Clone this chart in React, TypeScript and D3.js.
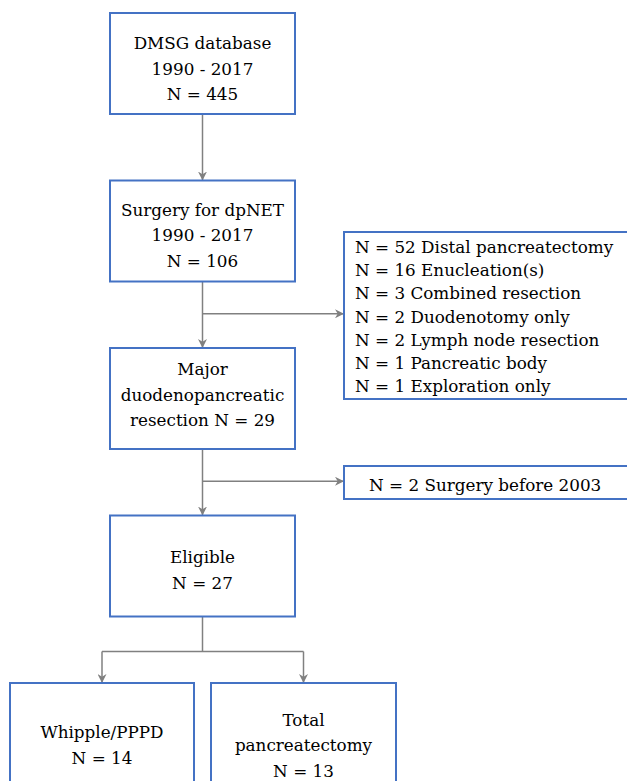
import React from 'react';
import * as d3 from 'd3';

// flow boxes, top to bottom
const mainLabels = [
  ['DMSG database', '1990 - 2017', 'N = 445'],
  ['Surgery for dpNET', '1990 - 2017', 'N = 106'],
  ['Major', 'duodenopancreatic', 'resection N = 29'],
  ['Eligible', 'N = 27'],
];
const excludedFirst = [
  'N = 52 Distal pancreatectomy',
  'N = 16 Enucleation(s)',
  'N = 3 Combined resection',
  'N = 2 Duodenotomy only',
  'N = 2 Lymph node resection',
  'N = 1 Pancreatic body',
  'N = 1 Exploration only',
];
const excludedSecond = ['N = 2 Surgery before 2003'];
const splitLabels = [
  ['Whipple/PPPD', 'N = 14'],
  ['Total', 'pancreatectomy', 'N = 13'],
];

const W = 627;
const H = 781;
const BLUE = '#4472c4';
const GREY = '#808080';
const textStyle = { fontFamily: "'DejaVu Serif', serif", fontSize: '16.8px' };

// layout
const rowY = d3.scaleLinear().domain([0, 4]).range([13, 683]);
const colX = 110;
const boxW = 185;
const boxH = 101;
const lineH = 25.5;
const textShift = [11, 10, 2, 10];
const sideX = 344;
const sideW = 320;
const splitX = [10, 211];
const splitW = [184, 185];

export default function App() {
  const cx = colX + boxW / 2;
  const line = d3.line();

  const arrows: [number, number][][] = [];
  // vertical links between main boxes
  for (let i = 0; i < mainLabels.length - 1; i++) {
    arrows.push([[cx, rowY(i) + boxH], [cx, rowY(i + 1)]]);
  }
  const branchY = [0, 1].map(i => (rowY(i + 1) + boxH + rowY(i + 2)) / 2 - 1);
  branchY.forEach(y => arrows.push([[cx, y], [sideX, y]]));

  // split to the two last boxes
  const splitY = rowY(3) + boxH + 35;
  const splitCx = splitX.map((x, i) => x + splitW[i] / 2);
  const stem: [number, number][] = [[cx, rowY(3) + boxH], [cx, splitY]];
  const bar: [number, number][] = [[splitCx[0], splitY], [splitCx[1], splitY]];
  splitCx.forEach(x => arrows.push([[x, splitY], [x, rowY(4)]]));

  const firstTop = 232;
  const firstBottom = 399;
  const secondTop = 466;
  const secondBottom = 499;

  return (
    <svg width={W} height={H} style={{ position: 'absolute', left: 0, top: 0, background: '#fff' }}>
      <defs>
        <marker id="arr" viewBox="0 0 10 10" refX={10} refY={5} markerWidth={9} markerHeight={9}
          markerUnits="userSpaceOnUse" orient="auto">
          <path d="M0,0 L10,5 L0,10 L3,5 Z" fill={GREY} />
        </marker>
      </defs>
      <rect width={W} height={H} fill="#fff" />

      {[stem, bar].map((p, i) => (
        <path key={'s' + i} d={line(p) ?? ''} fill="none" stroke={GREY} strokeWidth={1.5} />
      ))}
      {arrows.map((p, i) => (
        <path key={i} d={line(p) ?? ''} fill="none" stroke={GREY} strokeWidth={1.5} markerEnd="url(#arr)" />
      ))}

      {mainLabels.map((lines, i) => {
        const y0 = rowY(i);
        const mid = y0 + boxH / 2 + textShift[i];
        return (
          <g key={i}>
            <rect x={colX} y={y0} width={boxW} height={boxH} fill="#fff" stroke={BLUE} strokeWidth={2} />
            {lines.map((t, j) => (
              <text key={j} x={cx} y={mid + (j - (lines.length - 1) / 2) * lineH} textAnchor="middle" fill="#000" style={textStyle}>{t}</text>
            ))}
          </g>
        );
      })}

      <rect x={sideX} y={firstTop} width={sideW} height={firstBottom - firstTop} fill="#fff" stroke={BLUE} strokeWidth={2} />
      {excludedFirst.map((t, j) => (
        <text key={j} x={sideX + 11} y={253 + j * 23.2} fill="#000" style={textStyle}>{t}</text>
      ))}

      <rect x={sideX} y={secondTop} width={sideW} height={secondBottom - secondTop} fill="#fff" stroke={BLUE} strokeWidth={2} />
      {excludedSecond.map((t, j) => (
        <text key={j} x={sideX + 25} y={491 + j * 23} fill="#000" style={textStyle}>{t}</text>
      ))}

      {splitLabels.map((lines, i) => {
        const mid = rowY(4) + 61;
        return (
          <g key={i}>
            <rect x={splitX[i]} y={rowY(4)} width={splitW[i]} height={140} fill="#fff" stroke={BLUE} strokeWidth={2} />
            {lines.map((t, j) => (
              <text key={j} x={splitCx[i]} y={mid + (j - (lines.length - 1) / 2) * lineH + 7} textAnchor="middle" fill="#000" style={textStyle}>{t}</text>
            ))}
          </g>
        );
      })}
    </svg>
  );
}
